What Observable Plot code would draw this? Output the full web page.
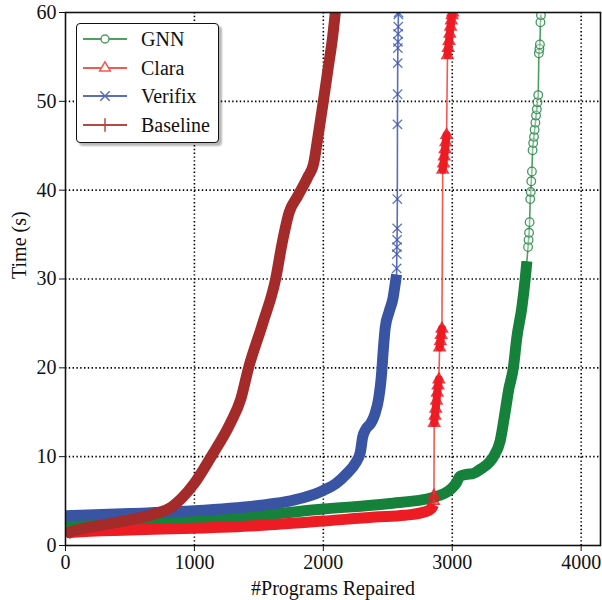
<!DOCTYPE html>
<html><head><meta charset="utf-8">
<script src="https://cdn.jsdelivr.net/npm/d3@7"></script>
<script src="https://cdn.jsdelivr.net/npm/@observablehq/plot@0.6"></script>
<style>
body{margin:0;background:#fff;}
#wrap{position:relative;width:602px;height:600px;font-family:"Liberation Serif","Times New Roman",serif;}
#legend{position:absolute;left:76px;top:23px;width:141px;height:118px;border:1.6px solid #111;border-radius:4px;background:#fff;box-shadow:3px 3px 2px rgba(0,0,0,0.28);}
.row{position:absolute;left:0;height:24px;display:flex;align-items:center;}
.row span{font-size:20px;color:#111;margin-left:12px;line-height:24px;}
</style></head><body><div id="wrap"></div>
<script>
// ---- data ----
const seriesNames = ["GNN", "Clara", "Verifix", "Baseline"];
const colors = ["#16813a", "#ed1c24", "#3a54a4", "#a52a2a"];
const lightColors = ["#4f9e63", "#f25a50", "#5a6cbc", "#b44a42"];
const symbols = ["circle", "triangle", "times", "plus"];
const xTicks = [0, 1000, 2000, 3000, 4000];
const yTicks = [0, 10, 20, 30, 40, 50, 60];

// GNN
const gnnDenseX = [0, 500, 1000, 1500, 2000, 2500, 2850, 2990, 3030, 3060, 3110, 3163, 3220, 3290, 3320, 3372, 3410, 3436, 3474, 3501, 3540, 3566, 3579];
const gnnDenseY = [2.6, 2.8, 3.0, 3.4, 4.1, 4.7, 5.4, 6.35, 7.0, 7.8, 8.0, 8.1, 8.6, 9.4, 10.0, 11.8, 15.0, 17.4, 20.0, 23.4, 26.8, 30.0, 32.0];
const gnnSparseX = [3588, 3592, 3596, 3600, 3605, 3609, 3613, 3618, 3623, 3628, 3634, 3639, 3645, 3650, 3656, 3661, 3667, 3672, 3676, 3680, 3684, 3688];
const gnnSparseY = [33.6, 34.4, 35.2, 36.4, 39.0, 39.8, 41.0, 42.1, 44.5, 45.3, 46.0, 46.8, 47.6, 48.4, 49.1, 49.9, 50.7, 55.4, 55.9, 56.4, 58.9, 59.7];

// Clara
const claraDenseX = [0, 15, 60, 500, 1000, 1500, 2000, 2400, 2630, 2790, 2840, 2855];
const claraDenseY = [1.0, 1.35, 1.5, 1.75, 1.95, 2.25, 2.75, 3.2, 3.4, 3.8, 4.2, 4.6];
const claraSparseX = [2856, 2858, 2860, 2866, 2872, 2878, 2884, 2890, 2896, 2902, 2908, 2914, 2920, 2926, 2932, 2938, 2944, 2950, 2956, 2963, 2969, 2975, 2981, 2987, 2993, 2999, 3004];
const claraSparseY = [5.0, 5.6, 13.8, 14.6, 15.4, 16.3, 17.2, 18.0, 18.7, 22.3, 23.0, 23.7, 24.4, 42.3, 43.0, 43.8, 44.6, 45.4, 46.2, 55.2, 56.0, 56.8, 57.6, 58.4, 59.1, 59.7, 60.0];
const claraCluster = [0, 0, 1, 1, 1, 1, 1, 1, 1, 2, 2, 2, 2, 3, 3, 3, 3, 3, 3, 4, 4, 4, 4, 4, 4, 4, 4];

// Verifix
const verDenseX = [0, 500, 1000, 1500, 1700, 1850, 2000, 2100, 2183, 2250, 2287, 2305, 2330, 2370, 2400, 2430, 2450, 2465, 2480, 2510, 2540, 2558, 2568];
const verDenseY = [3.35, 3.6, 3.9, 4.5, 4.9, 5.4, 6.2, 7.0, 8.1, 9.3, 10.5, 12.2, 13.1, 13.8, 14.8, 16.6, 19.0, 22.0, 24.5, 26.3, 27.8, 29.5, 30.5];
const verSparseX = [2569, 2570, 2571, 2572, 2573, 2574, 2575, 2576, 2577, 2578, 2579, 2580, 2581, 2582, 2583];
const verSparseY = [31.2, 32.8, 33.6, 34.4, 35.7, 39.0, 47.4, 50.8, 54.3, 56.0, 56.7, 57.6, 58.4, 59.8, 60.0];

// Baseline
const baseDenseX = [0, 100, 400, 700, 820, 900, 1000, 1130, 1280, 1360, 1420, 1530, 1630, 1680, 1735, 1800, 1880, 1925, 1955, 2000, 2040, 2070, 2093];
const baseDenseY = [1.4, 1.8, 2.6, 3.6, 4.3, 5.3, 7.0, 10.0, 13.8, 16.5, 20.0, 25.0, 30.0, 34.0, 37.5, 39.3, 41.5, 43.0, 45.7, 50.0, 54.0, 57.0, 60.0];

// ---- build tables ----
const zip = (xs, ys, extra) => xs.map((x, i) => ({x, y: ys[i], g: extra ? extra[i] : 0}));
const dense = [zip(gnnDenseX, gnnDenseY), zip(claraDenseX, claraDenseY), zip(verDenseX, verDenseY), zip(baseDenseX, baseDenseY)];
const sparse = [zip(gnnSparseX, gnnSparseY), zip(claraSparseX, claraSparseY, claraCluster), zip(verSparseX, verSparseY), []];

const marks = [
  Plot.gridX({ticks: xTicks.slice(1), stroke: "#000", strokeOpacity: 1, strokeWidth: 1.6, strokeDasharray: "1.4,2.4"}),
  Plot.gridY({ticks: yTicks.slice(1, -1), stroke: "#000", strokeOpacity: 1, strokeWidth: 1.6, strokeDasharray: "1.4,2.4"})
];
seriesNames.forEach((s, i) => {
  const all = dense[i].concat(sparse[i].map(d => ({x: d.x, y: d.y, g: 0})));
  marks.push(Plot.line(all, {x: "x", y: "y", stroke: lightColors[i], strokeWidth: 1.6, clip: true}));
  marks.push(Plot.line(dense[i], {x: "x", y: "y", curve: "monotone-x", stroke: colors[i], strokeWidth: 11, strokeLinecap: "butt", strokeLinejoin: "round", clip: true}));
  if (i === 1) {
    marks.push(Plot.line(sparse[i].filter(d => d.g > 0), {x: "x", y: "y", z: "g", stroke: colors[i], strokeWidth: 8, strokeLinecap: "round", clip: true}));
  }
  if (sparse[i].length) {
    marks.push(Plot.dot(sparse[i], {x: "x", y: "y", symbol: symbols[i], r: 4.3, stroke: colors[i], strokeOpacity: 0.8, strokeWidth: 1.3, fill: i === 1 ? colors[i] : "white", fillOpacity: i === 1 ? 0.6 : 0.35, clip: true}));
  }
});
marks.push(
  Plot.frame({stroke: "#111", strokeWidth: 1.6}),
  Plot.axisX({ticks: xTicks, tickSize: 6, tickPadding: 3, fontSize: 20, label: null, tickFormat: d3.format("d"), stroke: "#111"}),
  Plot.axisY({ticks: yTicks, tickSize: 6, tickPadding: 3, fontSize: 20, label: null, tickFormat: d3.format("d"), stroke: "#111"}),
  Plot.text(["#Programs Repaired"], {frameAnchor: "bottom", dy: 43, fontSize: 20, fill: "#111", lineAnchor: "middle"}),
  Plot.text(["Time (s)"], {frameAnchor: "left", dx: -46, rotate: -90, fontSize: 20, fill: "#111", lineAnchor: "middle"})
);

const chart = Plot.plot({
  width: 602, height: 600,
  marginLeft: 65, marginRight: 2, marginTop: 12, marginBottom: 55,
  style: {fontFamily: "'Liberation Serif', 'Times New Roman', serif", fontSize: "20px", color: "#111", background: "white"},
  x: {domain: [0, 4150]},
  y: {domain: [0, 60]},
  marks
});
const wrap = document.getElementById("wrap");
wrap.appendChild(chart);

// ---- legend ----
const legend = document.createElement("div");
legend.id = "legend";
seriesNames.forEach((s, i) => {
  const row = document.createElement("div");
  row.className = "row";
  row.style.top = (3 + i * 28.7) + "px";
  const ns = "http://www.w3.org/2000/svg";
  const svg = document.createElementNS(ns, "svg");
  svg.setAttribute("width", 52); svg.setAttribute("height", 24);
  const line = document.createElementNS(ns, "line");
  line.setAttribute("x1", 6); line.setAttribute("x2", 50); line.setAttribute("y1", 12); line.setAttribute("y2", 12);
  line.setAttribute("stroke", lightColors[i]); line.setAttribute("stroke-width", 1.8);
  svg.appendChild(line);
  const symMap = {circle: d3.symbolCircle, triangle: d3.symbolTriangle, times: d3.symbolTimes, plus: d3.symbolPlus};
  const p = document.createElementNS(ns, "path");
  const size = i >= 2 ? 60 : 50;
  p.setAttribute("d", d3.symbol(symMap[symbols[i]], size)());
  p.setAttribute("transform", "translate(28,12)");
  p.setAttribute("stroke", lightColors[i]); p.setAttribute("stroke-width", 1.5);
  p.setAttribute("fill", i === 3 ? lightColors[i] : "white");
  svg.appendChild(p);
  row.appendChild(svg);
  const t = document.createElement("span");
  t.textContent = s;
  row.appendChild(t);
  legend.appendChild(row);
});
wrap.appendChild(legend);
</script></body></html>
